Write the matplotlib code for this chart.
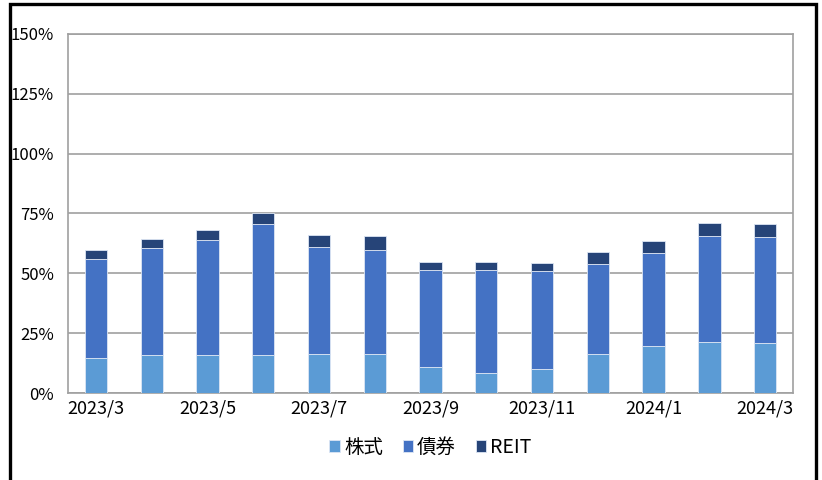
import matplotlib as mpl
mpl.use("Agg")
import matplotlib.pyplot as plt
import numpy as np
from matplotlib.patches import Rectangle

plt.rcParams["font.family"] = ["Noto Sans CJK JP", "DejaVu Sans"]

# ── Data (% of net assets) ──────────────────────────────────────────────────
MONTHS = ["2023/3", "2023/4", "2023/5", "2023/6", "2023/7", "2023/8", "2023/9",
          "2023/10", "2023/11", "2023/12", "2024/1", "2024/2", "2024/3"]
STOCK = [14.5, 15.8, 15.8, 15.8, 16.2, 16.2, 10.7, 8.4, 10.2, 16.5, 19.5, 21.2, 20.7]
BOND = [41.4, 44.6, 48.3, 55.0, 44.6, 43.7, 40.5, 42.8, 40.7, 37.6, 38.8, 44.3, 44.5]
REIT = [3.8, 4.1, 4.2, 4.6, 5.4, 5.6, 3.4, 3.4, 3.4, 5.0, 5.2, 5.4, 5.5]
SERIES = ["株式", "債券", "REIT"]
Y_TICKS = [0, 25, 50, 75, 100, 125, 150]

CLR_STOCK = "#5B9BD5"
CLR_BOND = "#4472C4"
CLR_REIT = "#264478"
CLR_GRID = "#A0A0A0"

fig = plt.figure(figsize=(8.22, 4.80), dpi=100)
ax = fig.add_axes([68 / 822, 87 / 480, 725 / 822, 359 / 480])

x = np.arange(len(MONTHS))
stock = np.array(STOCK)
bond = np.array(BOND)
reit = np.array(REIT)
w = 0.40
kw = dict(width=w, edgecolor="#DDE6F4", linewidth=0.6, zorder=3)
ax.bar(x, stock, color=CLR_STOCK, label=SERIES[0], **kw)
ax.bar(x, bond, bottom=stock, color=CLR_BOND, label=SERIES[1], **kw)
ax.bar(x, reit, bottom=stock + bond, color=CLR_REIT, label=SERIES[2], **kw)

ax.set_xlim(-0.5, len(MONTHS) - 0.5)
ax.set_ylim(0, 150)
ax.set_yticks(Y_TICKS)
ax.set_yticklabels([f"{v}%" for v in Y_TICKS], fontsize=12)
ax.set_xticks(x[::2])
ax.set_xticklabels(MONTHS[::2], fontsize=13)
ax.tick_params(axis="y", length=0, pad=10)
ax.tick_params(axis="x", length=0, pad=5)
ax.yaxis.grid(True, color=CLR_GRID, lw=1.2, zorder=0)
for s in ax.spines.values():
    s.set_color(CLR_GRID)
    s.set_linewidth(1.2)

ax.legend(loc="center", bbox_to_anchor=(0.5, -0.152), ncol=3, frameon=False,
          fontsize=14, handlelength=0.55, handleheight=0.55, handletextpad=0.2,
          columnspacing=1.0)

# outer black frame (bottom edge falls outside the image)
fig.patches.append(Rectangle((9.5 / 822, -0.05), 806 / 822, 1.05 - 4.5 / 480,
                             transform=fig.transFigure, fill=False,
                             edgecolor="black", linewidth=2.4))

fig.savefig("out.png", dpi=100)
